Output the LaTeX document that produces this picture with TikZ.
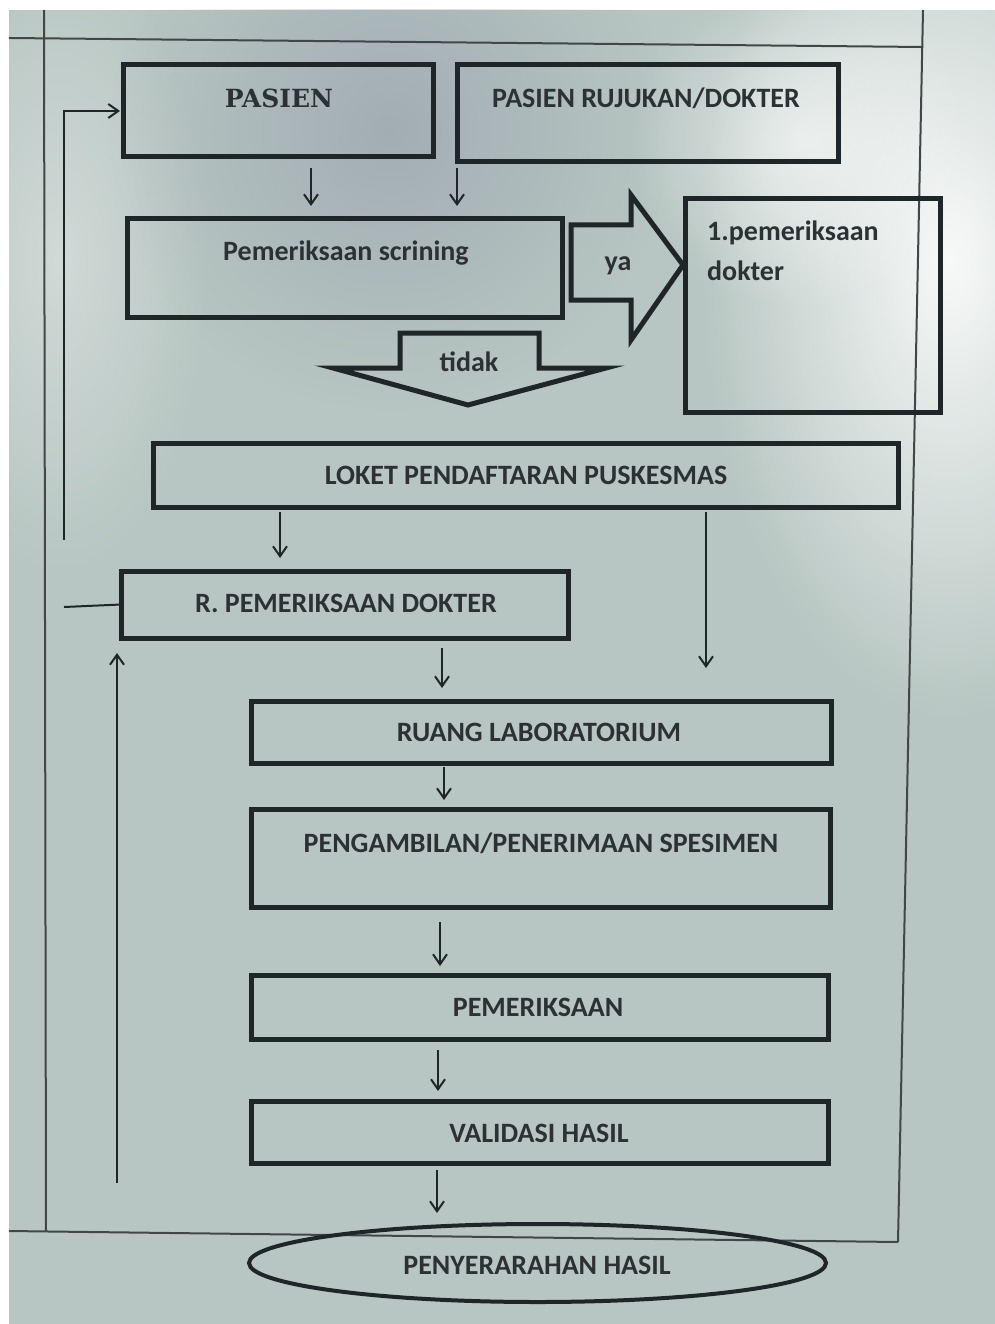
\documentclass[tikz,border=0pt]{standalone}
\usepackage{fontspec}
\setmainfont{Carlito}
\newfontfamily\slabfont{DejaVu Serif}
\usetikzlibrary{arrows.meta,shapes.geometric,fadings}
\definecolor{bgc}{HTML}{B7C6C2}
\definecolor{shadowc}{HTML}{959DAA}
\definecolor{ink}{HTML}{1F2628}
\definecolor{txtc}{HTML}{2C3134}
\tikzfading[name=softglow, inner color=transparent!0, outer color=transparent!100]
\tikzset{
  box/.style={draw=ink, line width=5pt, rectangle, inner sep=0pt, outer sep=0pt},
  oval/.style={draw=ink, line width=4pt, ellipse, inner sep=0pt, outer sep=0pt},
  lbl/.style={text=txtc, font=\bfseries\fontsize{28}{40}\selectfont, inner sep=0pt},
  slab/.style={text=txtc, font=\slabfont\bfseries\fontsize{25}{30}\selectfont, inner sep=0pt},
  thinline/.style={draw=ink, line width=2pt},
  frameline/.style={draw=ink!85!white, line width=2pt},
  arr/.style={thinline, -{Straight Barb[length=10pt,width=14pt,line width=2pt]}},
  blockarrow/.style={draw=ink, line width=5pt, line join=miter},
}
\begin{document}
\begin{tikzpicture}[x=1pt,y=-1pt]
\useasboundingbox (0,0) rectangle (995,1324);
\fill[white] (0,0) rectangle (995,1324);
\fill[bgc] (9,10) rectangle (995,1324);
% photo lighting
\begin{scope}
\clip (9,10) rectangle (995,1324);
\fill[white, fill opacity=0.35, path fading=softglow] (60,260) ellipse (150 and 320);
\fill[shadowc, fill opacity=0.6, path fading=softglow] (390,130) ellipse (280 and 280);
\fill[white, fill opacity=0.9, path fading=softglow] (950,260) ellipse (250 and 460);
\fill[white, fill opacity=0.6, path fading=softglow] (800,140) ellipse (170 and 170);
\end{scope}

% page outline of the photographed sheet
\coordinate (ftl) at (9,38);
\coordinate (ftr) at (923,47);
\coordinate (flt) at (44,10);
\coordinate (flb) at (46,1231);
\coordinate (frt) at (923,10);
\coordinate (frb) at (898,1242);
\coordinate (fbl) at (9,1231);
\draw[frameline] (ftl) -- (ftr);
\draw[frameline] (flt) -- (flb);
\draw[frameline] (frt) -- (frb);
\draw[frameline] (fbl) -- (frb);

% boxes
\node[box, minimum width=310, minimum height=92] (pasien) at (278,111) {};
\node[box, minimum width=381, minimum height=97] (rujukan) at (647.5,113.5) {};
\node[box, minimum width=435, minimum height=98] (scr) at (344.5,268) {};
\node[box, minimum width=255, minimum height=213] (dok1) at (812.5,305.5) {};
\node[box, minimum width=745, minimum height=64] (loket) at (525.5,475) {};
\node[box, minimum width=447, minimum height=67] (rpem) at (344.5,604.5) {};
\node[box, minimum width=580, minimum height=62] (lab) at (541,732) {};
\node[box, minimum width=579, minimum height=98] (spes) at (540.5,858) {};
\node[box, minimum width=577, minimum height=64] (periksa) at (539.5,1007) {};
\node[box, minimum width=577, minimum height=62] (valid) at (539.5,1132) {};
\node[oval, minimum width=577, minimum height=78] (hasil) at (537.5,1263) {};

% texts
\node[slab] (pasienT) at (279,98) {PASIEN};
\node[lbl] (rujukanT) at (646,98) {PASIEN RUJUKAN/DOKTER};
\node[lbl] (scrT) at (346,253) {Pemeriksaan scrining};
\node[lbl, anchor=north west, align=left] (dok1T) at (707,221) {1.pemeriksaan\\dokter};
\node[lbl] (loketT) at (526,475) {LOKET PENDAFTARAN PUSKESMAS};
\node[lbl] (rpemT) at (346,603) {R. PEMERIKSAAN DOKTER};
\node[lbl] (labT) at (539,732) {RUANG LABORATORIUM};
\node[lbl] (spesT) at (541,843) {PENGAMBILAN/PENERIMAAN SPESIMEN};
\node[lbl] (periksaT) at (538,1007) {PEMERIKSAAN};
\node[lbl] (validT) at (539,1133) {VALIDASI HASIL};
\node[lbl] (hasilT) at (537,1265) {PENYERARAHAN HASIL};

% block arrow "ya"
\draw[blockarrow] (571,225) -- (631,225) -- (631,195) -- (683,265) -- (631,340) -- (631,300) -- (571,300) -- cycle;
\node[lbl] (yaT) at (618,266) {ya};
% block arrow "tidak"
\draw[blockarrow] (400,333) -- (539,333) -- (539,368) -- (606,368) -- (468,405) -- (333,368) -- (400,368) -- cycle;
\node[lbl] (tidakT) at (469,362) {tidak};

% columns for straight connectors
\coordinate (cA) at (311,0);
\coordinate (cB) at (457,0);
\coordinate (cC) at (280,0);
\coordinate (cD) at (706,0);
\coordinate (cE) at (442,0);
\coordinate (cF) at (444,0);
\coordinate (cG) at (440,0);
\coordinate (cH) at (438,0);
\coordinate (cI) at (437,0);
\coordinate (cJ) at (117,0);
\coordinate (dEnd) at (706,668);
\coordinate (loopTop) at (64,540);
\coordinate (loopStub) at (64,607);
\coordinate (loop2Start) at (117,1183);

\draw[arr, shorten <=11pt, shorten >=13pt] (pasien.south -| cA) -- (scr.north -| cA);
\draw[arr, shorten <=6pt, shorten >=13pt] (rujukan.south -| cB) -- (scr.north -| cB);
\draw[arr, shorten <=5pt, shorten >=13pt] (loket.south -| cC) -- (rpem.north -| cC);
\draw[arr, shorten <=5pt] (loket.south -| cD) -- (dEnd);
\draw[arr, shorten <=10pt, shorten >=13pt] (rpem.south -| cE) -- (lab.north -| cE);
\draw[arr, shorten <=4pt, shorten >=9pt] (lab.south -| cF) -- (spes.north -| cF);
\draw[arr, shorten <=15pt, shorten >=9pt] (spes.south -| cG) -- (periksa.north -| cG);
\draw[arr, shorten <=11pt, shorten >=10pt] (periksa.south -| cH) -- (valid.north -| cH);
\draw[arr, shorten <=7pt, shorten >=11pt] (valid.south -| cI) -- (hasil.north -| cI);

% feedback lines
\draw[arr, shorten >=3pt] (loopTop) |- (pasien.west);
\draw[thinline] (rpem.west) -- (loopStub);
\draw[arr, shorten >=15pt] (loop2Start) -- (rpem.south -| cJ);
\end{tikzpicture}
\end{document}
